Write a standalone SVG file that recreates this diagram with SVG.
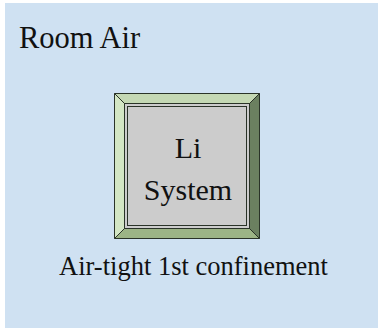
<svg xmlns="http://www.w3.org/2000/svg" width="378" height="328" viewBox="0 0 378 328">
<style>
.t{font-family:"Liberation Serif","Times New Roman",serif;fill:#111;}
.e{stroke:#2a3328;stroke-width:1;}
</style>
<rect width="378" height="328" fill="#ffffff"/>
<g id="room">
<rect x="5" y="3" width="373" height="325" fill="#cfe1f2"/>
<text class="t" x="19" y="48" font-size="30.5">Room Air</text>
</g>
<g id="li-system">
<polygon class="e" points="114.5,93.5 259.5,93.5 249.5,103.5 124.5,103.5" fill="#c4d8b4"/>
<polygon class="e" points="114.5,93.5 124.5,103.5 124.5,228.5 114.5,238.5" fill="#d3e6c4"/>
<polygon class="e" points="259.5,93.5 259.5,238.5 249.5,228.5 249.5,103.5" fill="#6b8060"/>
<polygon class="e" points="114.5,238.5 124.5,228.5 249.5,228.5 259.5,238.5" fill="#9cb486"/>
<rect class="e" x="124.5" y="103.5" width="125" height="125" fill="#cccccc"/>
<rect class="e" x="127.5" y="106.5" width="119" height="119" fill="none"/>
<text class="t" x="188" y="158" font-size="30" text-anchor="middle">Li</text>
<text class="t" x="188" y="200" font-size="30" text-anchor="middle">System</text>
</g>
<g id="label">
<text class="t" x="193.5" y="275" font-size="26.5" text-anchor="middle">Air-tight 1st confinement</text>
</g>
</svg>
